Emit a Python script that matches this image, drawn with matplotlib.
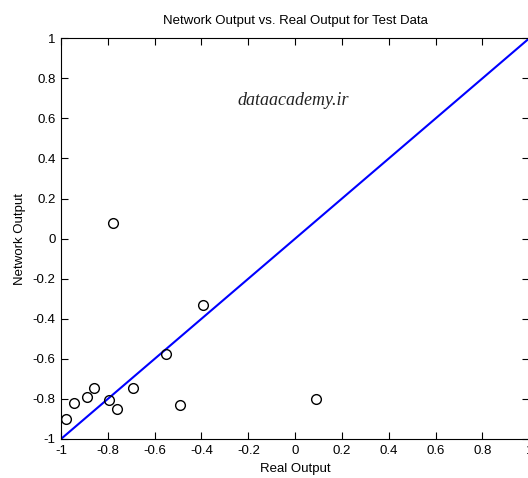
import numpy as np
import matplotlib
matplotlib.use("Agg")
import matplotlib.pyplot as plt

plt.rcParams["font.family"] = ["Liberation Sans", "DejaVu Sans"]

# test data: real output vs network output
real_out = [-0.979, -0.943, -0.887, -0.859, -0.794, -0.761, -0.693, -0.490,
            -0.777, -0.550, -0.392, 0.088]
net_out = [-0.901, -0.821, -0.791, -0.745, -0.805, -0.851, -0.744, -0.831,
           0.078, -0.575, -0.331, -0.798]
ref_line = [-1, 1]
ticks = [-1, -0.8, -0.6, -0.4, -0.2, 0, 0.2, 0.4, 0.6, 0.8, 1]
tick_labels = ["-1", "-0.8", "-0.6", "-0.4", "-0.2", "0", "0.2", "0.4", "0.6", "0.8", "1"]

fig = plt.figure(figsize=(5.28, 4.78), dpi=100)
ax = fig.add_axes([0.1155, 0.0816, 0.887, 0.8384])

ax.plot(ref_line, ref_line, color="#0000ff", lw=1.5)
ax.plot(real_out, net_out, "o", mfc="none", mec="black", ms=7, mew=1.0)

ax.set_xlim(-1, 1)
ax.set_ylim(-1, 1)
ax.set_xticks(ticks)
ax.set_xticklabels(tick_labels)
ax.set_yticks(ticks)
ax.set_yticklabels(tick_labels)
ax.tick_params(direction="in", length=5, width=0.8, top=True, right=True,
               labelsize=9.5, pad=4)
for s in ax.spines.values():
    s.set_linewidth(0.8)

ax.set_title("Network Output vs. Real Output for Test Data", fontsize=9.5, pad=10)
ax.set_xlabel("Real Output", fontsize=9.5, labelpad=5)
ax.set_ylabel("Network Output", fontsize=9.5, labelpad=5)

ax.text(0.495, 0.845, "dataacademy.ir", transform=ax.transAxes, ha="center",
        va="center", fontsize=13, style="italic", family="Liberation Serif",
        color="#222222")

fig.savefig("out.png", dpi=100)
